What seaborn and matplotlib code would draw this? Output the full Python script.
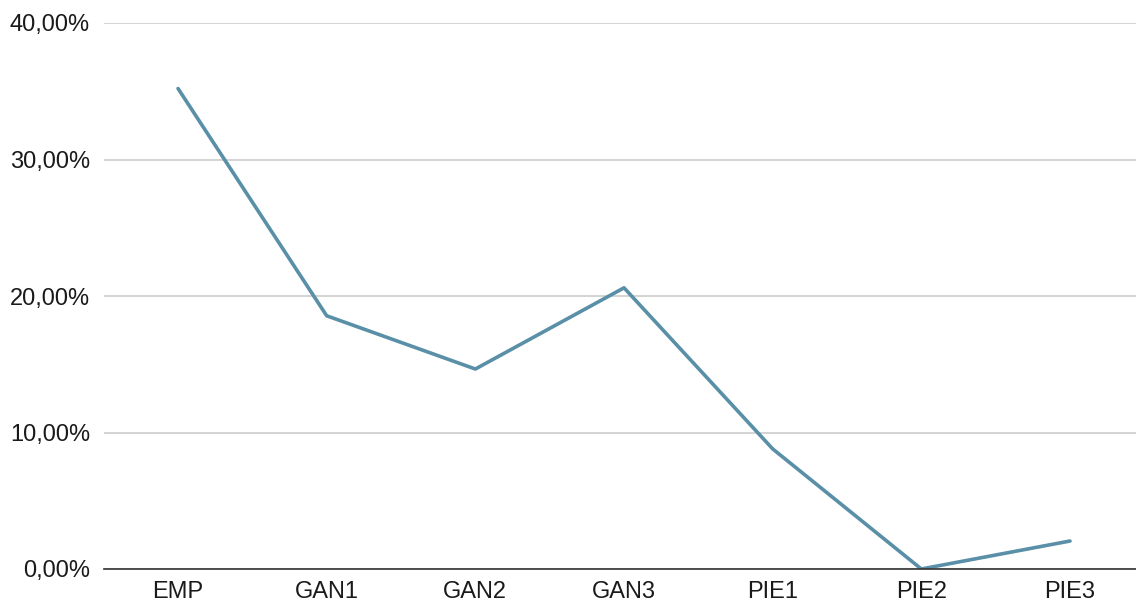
import matplotlib
matplotlib.use("Agg")
import matplotlib.pyplot as plt
import seaborn as sns
import pandas as pd
from matplotlib.ticker import FuncFormatter

categories = ["EMP", "GAN1", "GAN2", "GAN3", "PIE1", "PIE2", "PIE3"]
values = [35.2, 18.55, 14.65, 20.6, 8.8, 0.0, 2.05]
yticks = [0, 10, 20, 30, 40]

sns.set_style("white")
plt.rcParams['font.family'] = ['Liberation Sans', 'DejaVu Sans']

df = pd.DataFrame({"cat": categories, "val": values})
fig = plt.figure(figsize=(11.36, 6.03), dpi=100)
ax = fig.add_axes([104/1136, 1 - 569/603, 1 - 104/1136, (569 - 23)/603])

sns.lineplot(data=df, x="cat", y="val", ax=ax, color="#5a8fa8", linewidth=2.6, sort=False)

ax.set_xlim(-0.498, 6.444)
ax.set_ylim(0, 40)
ax.set_yticks(yticks)
ax.yaxis.set_major_formatter(FuncFormatter(lambda v, p: f"{v:.2f}".replace(".", ",") + "%"))
ax.grid(axis="y", color="#cccccc", linewidth=1.2)
ax.set_axisbelow(True)
for s in ["top", "right", "left"]:
    ax.spines[s].set_visible(False)
ax.spines["bottom"].set_color("#333333")
ax.spines["bottom"].set_linewidth(1.2)
ax.spines["bottom"].set_zorder(3)
ax.tick_params(axis="both", length=0, labelsize=17, colors="#1a1a1a")
ax.tick_params(axis="y", pad=10)
ax.tick_params(axis="x", pad=9)
ax.set_xlabel("")
ax.set_ylabel("")

fig.savefig("out.png", dpi=100)
